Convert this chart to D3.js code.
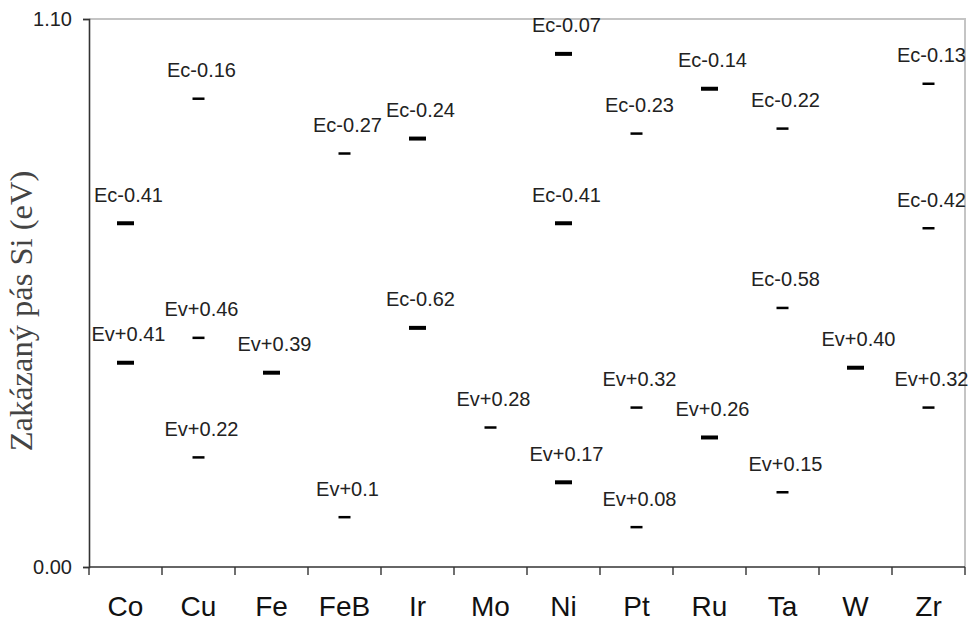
<!DOCTYPE html>
<html>
<head>
<meta charset="utf-8">
<script src="https://cdn.jsdelivr.net/npm/d3@7"></script>
<style>
  body { margin: 0; background: #fff; }
</style>
</head>
<body>
<div id="chart"></div>
<script>
// Data: gap width of Si, elements, and their levels
const bandGap = 1.10;
const elements = ["Co", "Cu", "Fe", "FeB", "Ir", "Mo", "Ni", "Pt", "Ru", "Ta", "W", "Zr"];
const levelElement = ["Co", "Co", "Cu", "Cu", "Cu", "Fe", "FeB", "FeB", "Ir", "Ir", "Mo",
  "Ni", "Ni", "Ni", "Pt", "Pt", "Pt", "Ru", "Ru", "Ta", "Ta", "Ta", "W", "Zr", "Zr", "Zr"];
const levelRef = ["Ec", "Ev", "Ec", "Ev", "Ev", "Ev", "Ec", "Ev", "Ec", "Ec", "Ev",
  "Ec", "Ec", "Ev", "Ec", "Ev", "Ev", "Ec", "Ev", "Ec", "Ec", "Ev", "Ev", "Ec", "Ec", "Ev"];
const levelValue = [0.41, 0.41, 0.16, 0.46, 0.22, 0.39, 0.27, 0.1, 0.24, 0.62, 0.28,
  0.07, 0.41, 0.17, 0.23, 0.32, 0.08, 0.14, 0.26, 0.22, 0.58, 0.15, 0.40, 0.13, 0.42, 0.32];
const levelLabel = ["Ec-0.41", "Ev+0.41", "Ec-0.16", "Ev+0.46", "Ev+0.22", "Ev+0.39", "Ec-0.27", "Ev+0.1",
  "Ec-0.24", "Ec-0.62", "Ev+0.28", "Ec-0.07", "Ec-0.41", "Ev+0.17", "Ec-0.23", "Ev+0.32", "Ev+0.08",
  "Ec-0.14", "Ev+0.26", "Ec-0.22", "Ec-0.58", "Ev+0.15", "Ev+0.40", "Ec-0.13", "Ec-0.42", "Ev+0.32"];
const yTicks = [0, 1.10];

// elements drawn with a heavier dash
const heavy = new Set(["Co", "Fe", "Ir", "Ni", "Ru", "W"]);

const sans = "'Liberation Sans', Arial, sans-serif";
const width = 968, height = 621;
const margin = { top: 19, right: 3, bottom: 54, left: 89 };

const svg = d3.select("#chart").append("svg")
  .attr("width", width)
  .attr("height", height);

const x = d3.scaleBand()
  .domain(elements)
  .range([margin.left, width - margin.right]);

const y = d3.scaleLinear()
  .domain([0, bandGap])
  .range([height - margin.bottom, margin.top]);

// frame top + right (light gray)
svg.append("path")
  .attr("d", `M${margin.left},${y(bandGap)}H${width - margin.right}V${y(0)}`)
  .attr("fill", "none")
  .attr("stroke", "#c4c4c4")
  .attr("stroke-width", 2);

// y axis
const yAxis = svg.append("g")
  .attr("transform", `translate(${margin.left},0)`)
  .call(d3.axisLeft(y).tickValues(yTicks).tickFormat(d3.format(".2f")).tickSize(6).tickPadding(11));
yAxis.select(".domain").attr("stroke", "#333").attr("stroke-width", 1.6);
yAxis.selectAll(".tick line").attr("stroke", "#333").attr("stroke-width", 1.4);
yAxis.selectAll(".tick text")
  .style("font-family", sans)
  .style("font-size", "20px")
  .attr("fill", "#222");

// x axis: ticks on band boundaries
const xAxis = svg.append("g")
  .attr("transform", `translate(0,${y(0)})`);
xAxis.append("line")
  .attr("x1", margin.left).attr("x2", width - margin.right)
  .attr("stroke", "#333").attr("stroke-width", 1.6);
const bounds = elements.map(d => x(d)).concat([x.range()[1]]);
xAxis.selectAll(".bt")
  .data(bounds)
  .enter().append("line")
  .attr("class", "bt")
  .attr("x1", d => d).attr("x2", d => d)
  .attr("y1", 0).attr("y2", 8)
  .attr("stroke", "#333").attr("stroke-width", 1.4);
xAxis.selectAll(".cat")
  .data(elements)
  .enter().append("text")
  .attr("class", "cat")
  .attr("x", d => x(d) + x.bandwidth() / 2)
  .attr("y", 49)
  .attr("text-anchor", "middle")
  .style("font-family", sans)
  .style("font-size", "28px")
  .attr("fill", "#111")
  .text(d => d);

// y title
svg.append("text")
  .attr("transform", `translate(32,${(y(0) + y(bandGap)) / 2 + 18}) rotate(-90)`)
  .attr("text-anchor", "middle")
  .style("font-family", "'Liberation Serif', 'Times New Roman', serif")
  .style("font-size", "32.5px")
  .attr("fill", "#444")
  .text("Zakázaný pás Si (eV)");

// levels
const levels = levelElement.map((el, i) => ({
  el: el,
  energy: levelRef[i] === "Ec" ? bandGap - levelValue[i] : levelValue[i],
  label: levelLabel[i]
}));

const g = svg.append("g");
g.selectAll(".lvl")
  .data(levels)
  .enter().append("line")
  .attr("class", "lvl")
  .attr("x1", d => x(d.el) + x.bandwidth() / 2 - (heavy.has(d.el) ? 8.5 : 6))
  .attr("x2", d => x(d.el) + x.bandwidth() / 2 + (heavy.has(d.el) ? 8.5 : 6))
  .attr("y1", d => y(d.energy))
  .attr("y2", d => y(d.energy))
  .attr("stroke", "#000")
  .attr("stroke-width", d => heavy.has(d.el) ? 4 : 2.5);

g.selectAll(".lbl")
  .data(levels)
  .enter().append("text")
  .attr("class", "lbl")
  .attr("x", d => x(d.el) + x.bandwidth() / 2 + 3)
  .attr("y", d => y(d.energy) - 21.5)
  .attr("text-anchor", "middle")
  .style("font-family", sans)
  .style("font-size", "20px")
  .attr("fill", "#222")
  .text(d => d.label);
</script>
</body>
</html>
